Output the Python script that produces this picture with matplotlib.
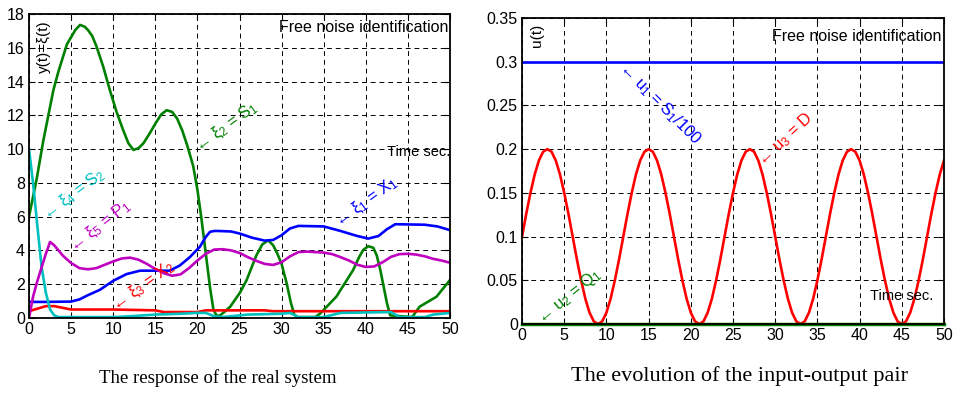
import matplotlib
matplotlib.use("Agg")
import matplotlib.pyplot as plt
import numpy as np

# ---- left panel: response of the real system ----
t_x1 = [0, 2, 5, 6, 7, 8.4, 10, 11.6, 13.2, 14, 16.7, 17.9, 19.1, 20.3, 21, 21.5, 22, 22.5, 24, 25, 26.5, 28, 29, 30,
        31, 32, 35, 37, 39, 40.3, 41.5, 42.5, 43.5, 47, 48.5, 50]
xi1 = [0.95, 0.95, 0.97, 1.1, 1.35, 1.66, 2.2, 2.6, 2.8, 2.8, 2.8, 3.1, 3.6, 4.22, 4.8, 5.1, 5.15, 5.15, 5.12, 5.0,
       4.75, 4.58, 4.62, 4.9, 5.3, 5.45, 5.42, 5.15, 4.85, 4.7, 4.85, 5.25, 5.55, 5.52, 5.42, 5.2]

t_x2 = [0, 0.9, 1.7, 2.9, 3.5, 4.5, 5.5, 6.06, 6.6, 7, 7.5, 8.0, 8.8, 9.6, 10.4, 11.2, 11.8, 12.4, 13.0, 13.6, 14.3,
        15, 15.7, 16.35, 17, 17.6, 18.2, 18.8, 19.5, 20, 20.5, 21, 21.5, 21.9, 22.3, 22.7, 23.3, 23.9, 25.06,
        25.85, 27.0, 27.7, 28.4, 29.0, 29.5, 30, 30.6, 31.1, 31.5, 31.9, 34.0, 34.6, 36.5, 38.5, 39.2, 39.7, 40.3,
        40.9, 41.3, 41.7, 42.1, 42.5, 42.9, 45.5, 46.4, 48.4, 50]
xi2 = [6.0, 8.2, 10.5, 13.5, 14.6, 16.2, 17.05, 17.35, 17.25, 17.05, 16.7, 16.1, 14.9, 13.5, 12.2, 11.1, 10.35, 9.95,
       10.05, 10.35, 10.9, 11.5, 12.05, 12.3, 12.2, 11.8, 11.1, 10.2, 9.0, 7.6, 5.8, 3.8, 1.8, 0.5, 0.12, 0.15, 0.4,
       0.67, 1.5, 2.25, 3.7, 4.35, 4.6, 4.3, 3.8, 3.2, 2.05, 0.9, 0.2, 0.05, 0.05, 0.27, 1.26, 2.84, 3.6, 4.03, 4.25,
       4.15, 3.7, 2.9, 1.9, 0.9, 0.15, 0.05, 0.67, 1.26, 2.25]

t_x3 = [0, 1, 2, 3, 4, 5, 10, 15, 16, 20, 21, 28, 29, 50]
xi3 = [0.4, 0.55, 0.7, 0.7, 0.6, 0.5, 0.5, 0.45, 0.35, 0.35, 0.45, 0.45, 0.4, 0.4]

t_x4 = [0, 0.5, 1, 1.5, 2, 2.5, 3, 3.5, 10, 12, 15, 18, 20, 21, 22, 23, 24, 26, 30, 31, 32, 35, 37, 43, 44, 47, 48, 50]
xi4 = [10.0, 7.9, 5.4, 3.0, 1.5, 0.5, 0.15, 0.05, 0.05, 0.1, 0.2, 0.25, 0.3, 0.3, 0.1, 0.05, 0.1, 0.2, 0.25, 0.3,
       0.05, 0.05, 0.3, 0.35, 0.05, 0.05, 0.2, 0.3]

t_x5 = [0, 0.5, 1, 1.5, 2, 2.5, 3, 4, 5, 6, 7, 8, 9, 10, 11, 12, 13, 14, 15, 16, 17, 18, 19, 20, 21, 22, 23, 24, 25,
        26, 27, 28, 29, 30, 31, 32, 33, 34, 35, 36, 37, 38, 39, 40, 41, 42, 43, 44, 45, 46, 47, 48, 49, 50]
xi5 = [0.0, 1.3, 2.2, 3.0, 3.8, 4.5, 4.3, 3.7, 3.25, 2.95, 2.88, 2.95, 3.15, 3.35, 3.52, 3.57, 3.45, 3.2, 2.9, 2.65,
       2.5, 2.58, 2.95, 3.4, 3.8, 4.05, 4.07, 4.0, 3.85, 3.6, 3.38, 3.2, 3.14, 3.3, 3.65, 3.9, 3.93, 3.9, 3.87,
       3.78, 3.6, 3.4, 3.15, 3.02, 3.05, 3.3, 3.62, 3.78, 3.8, 3.75, 3.65, 3.5, 3.4, 3.27]

# ---- right panel: input-output pair (sampled every 0.5 s) ----
t_u = [k * 0.5 for k in range(101)]
u1 = [0.3] * 101
u2 = [0.0] * 101
u3_period = [0.1, 0.126, 0.15, 0.171, 0.187, 0.197, 0.2, 0.197, 0.187, 0.171, 0.15, 0.126,
             0.1, 0.074, 0.05, 0.029, 0.013, 0.003, 0.0, 0.003, 0.013, 0.029, 0.05, 0.074]
u3 = (u3_period * 5)[:101]

GREEN = '#008000'
BLUE = '#0000ff'
RED = '#ff0000'
CYAN = '#00bfbf'
MAGENTA = '#bf00bf'

plt.rcParams['font.family'] = ['Liberation Sans', 'DejaVu Sans']
plt.rcParams['mathtext.fontset'] = 'custom'
plt.rcParams['mathtext.rm'] = 'Liberation Sans'
plt.rcParams['mathtext.it'] = 'Liberation Sans'


def style_axes(ax):
    ax.grid(True, color='black', linestyle=(0, (5, 4)), linewidth=0.7)
    ax.tick_params(direction='in', length=4, labelsize=11.5, top=True, right=True, pad=3)
    for s in ax.spines.values():
        s.set_linewidth(1.3)
    ax.set_axisbelow(True)


fig = plt.figure(figsize=(9.54, 3.94), dpi=100)
fig.patch.set_facecolor('white')

ax1 = fig.add_axes([0.0304, 0.193, 0.4413, 0.7716])
lw = 1.9
ax1.plot(t_x2, xi2, color=GREEN, lw=lw)
ax1.plot(t_x1, xi1, color=BLUE, lw=lw)
ax1.plot(t_x3, xi3, color=RED, lw=lw)
ax1.plot(t_x4, xi4, color=CYAN, lw=lw)
ax1.plot(t_x5, xi5, color=MAGENTA, lw=lw)
ax1.set_xlim(0, 50)
ax1.set_ylim(0, 18)
ax1.set_xticks(np.arange(0, 51, 5))
ax1.set_yticks(np.arange(0, 19, 2))
style_axes(ax1)

ann = dict(ha='left', va='center', rotation_mode='anchor', fontsize=12)
ax1.text(19.9, 10.05, '← ξ$_2$ = S$_1$', color=GREEN, rotation=36, **ann)
ax1.text(36.5, 5.6, '← ξ$_1$ = X$_1$', color=BLUE, rotation=36, **ann)
ax1.text(1.9, 6.0, '← ξ$_4$ = S$_2$', color=CYAN, rotation=37, **ann)
ax1.text(5.07, 4.12, '← ξ$_5$ = P$_1$', color=MAGENTA, rotation=38, **ann)
ax1.text(10.0, 0.63, '← ξ$_3$ = X$_2$', color=RED, rotation=36, **ann)

ax1.text(0.035, 0.98, 'y(t)=ξ(t)', transform=ax1.transAxes, rotation=90, ha='center', va='top', fontsize=11)
ax1.text(0.995, 0.955, 'Free noise identification', transform=ax1.transAxes, ha='right', va='center', fontsize=11.5)
ax1.text(1.0, 0.545, 'Time sec.', transform=ax1.transAxes, ha='right', va='center', fontsize=10.5)

ax2 = fig.add_axes([0.5472, 0.1777, 0.4423, 0.7766])
ax2.plot(t_u, u1, color=BLUE, lw=lw)
ax2.plot(t_u, u3, color=RED, lw=lw)
ax2.plot(t_u, u2, color=GREEN, lw=lw + 0.6, clip_on=False)
ax2.set_xlim(0, 50)
ax2.set_ylim(0, 0.35)
ax2.set_xticks(np.arange(0, 51, 5))
ax2.set_yticks([0, 0.05, 0.1, 0.15, 0.2, 0.25, 0.3, 0.35])
ax2.set_yticklabels(['0', '0.05', '0.1', '0.15', '0.2', '0.25', '0.3', '0.35'])
style_axes(ax2)

ax2.text(11.8, 0.2963, '← u$_1$ = S$_1$/100', color=BLUE, rotation=-45, **ann)
ax2.text(28.2, 0.184, '← u$_3$ = D', color=RED, rotation=43, **ann)
ax2.text(2.05, 0.004, '← u$_2$ = Q$_1$', color=GREEN, rotation=39, **ann)

ax2.text(0.035, 0.98, 'u(t)', transform=ax2.transAxes, rotation=90, ha='center', va='top', fontsize=11)
ax2.text(0.995, 0.94, 'Free noise identification', transform=ax2.transAxes, ha='right', va='center', fontsize=11.5)
ax2.text(0.975, 0.09, 'Time sec.', transform=ax2.transAxes, ha='right', va='center', fontsize=10.5)

fig.text(0.228, 0.04, 'The response of the real system', ha='center', va='center',
         family=['Liberation Serif'], fontsize=13.5)
fig.text(0.775, 0.045, 'The evolution of the input-output pair', ha='center', va='center',
         family=['Liberation Serif'], fontsize=16)

fig.savefig('out.png', dpi=100)
